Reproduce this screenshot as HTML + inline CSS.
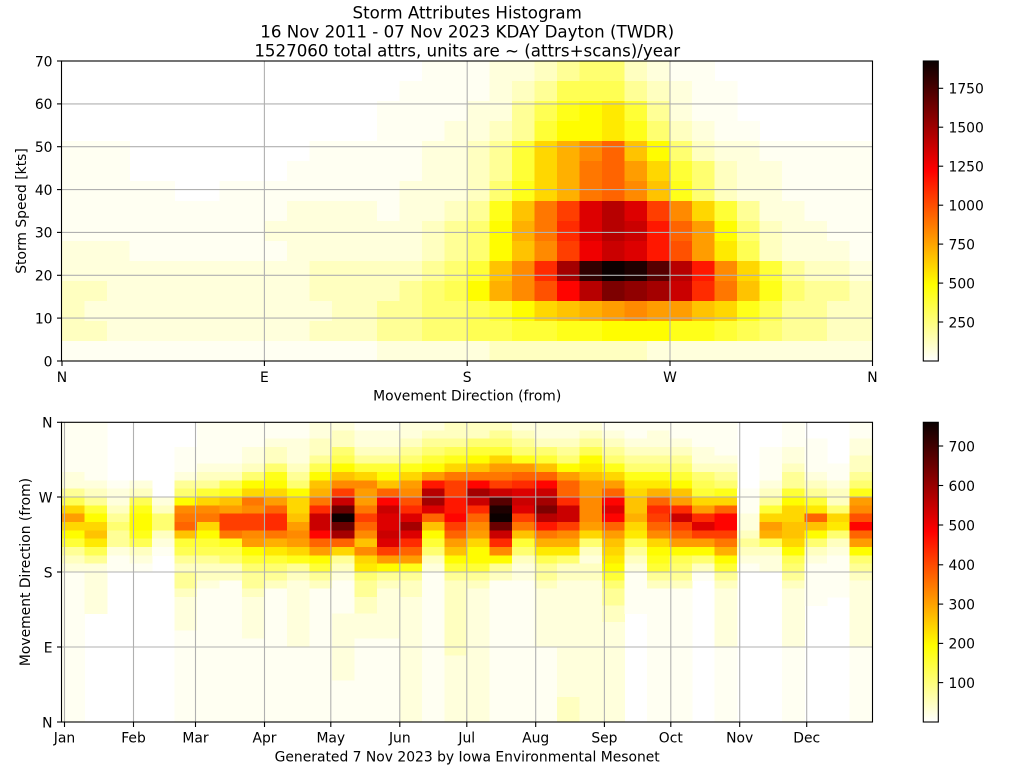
<!DOCTYPE html>
<html><head><meta charset="utf-8">
<style>
html,body{margin:0;padding:0;background:#fff;}
svg{display:block;font-family:"DejaVu Sans","Liberation Sans",sans-serif;}
text{fill:#000;}
</style></head><body>
<svg id="s" width="1024" height="768" viewBox="0 0 1024 768" xmlns="http://www.w3.org/2000/svg">
<defs>
<linearGradient id="hot" x1="0" y1="1" x2="0" y2="0">
<stop offset="0" stop-color="#ffffff"/>
<stop offset="0.254" stop-color="#ffff00"/>
<stop offset="0.635" stop-color="#ff0000"/>
<stop offset="1" stop-color="#0a0000"/>
</linearGradient>
</defs>
<rect width="1024" height="768" fill="#fff"/>
<g id="top" shape-rendering="crispEdges"></g>
<g id="bot" shape-rendering="crispEdges"></g>

<!-- Top grid -->
<g stroke="#b0b0b0" stroke-width="1.1" fill="none">
<line x1="264.4" y1="61" x2="264.4" y2="361"/>
<line x1="467.2" y1="61" x2="467.2" y2="361"/>
<line x1="670" y1="61" x2="670" y2="361"/>
<line x1="62" y1="318.1" x2="872.5" y2="318.1"/>
<line x1="62" y1="275.3" x2="872.5" y2="275.3"/>
<line x1="62" y1="232.4" x2="872.5" y2="232.4"/>
<line x1="62" y1="189.6" x2="872.5" y2="189.6"/>
<line x1="62" y1="146.7" x2="872.5" y2="146.7"/>
<line x1="62" y1="103.9" x2="872.5" y2="103.9"/>
</g>
<!-- Bottom grid -->
<g stroke="#b0b0b0" stroke-width="1.1" fill="none">
<line x1="64.5" y1="422" x2="64.5" y2="722"/>
<line x1="133.5" y1="422" x2="133.5" y2="722"/>
<line x1="195.5" y1="422" x2="195.5" y2="722"/>
<line x1="264.5" y1="422" x2="264.5" y2="722"/>
<line x1="330.8" y1="422" x2="330.8" y2="722"/>
<line x1="399.8" y1="422" x2="399.8" y2="722"/>
<line x1="466.8" y1="422" x2="466.8" y2="722"/>
<line x1="535.7" y1="422" x2="535.7" y2="722"/>
<line x1="604.4" y1="422" x2="604.4" y2="722"/>
<line x1="670.8" y1="422" x2="670.8" y2="722"/>
<line x1="739.7" y1="422" x2="739.7" y2="722"/>
<line x1="806.7" y1="422" x2="806.7" y2="722"/>
<line x1="62" y1="647" x2="872.5" y2="647"/>
<line x1="62" y1="572" x2="872.5" y2="572"/>
<line x1="62" y1="497" x2="872.5" y2="497"/>
</g>

<!-- Spines -->
<rect x="61.5" y="61" width="811" height="300" fill="none" stroke="#000" stroke-width="1.1"/>
<rect x="61.5" y="422.3" width="811" height="299.7" fill="none" stroke="#000" stroke-width="1.1"/>

<!-- Ticks -->
<g stroke="#000" stroke-width="1.1">
<line x1="62" y1="361" x2="62" y2="366"/>
<line x1="264.4" y1="361" x2="264.4" y2="366"/>
<line x1="467.2" y1="361" x2="467.2" y2="366"/>
<line x1="670" y1="361" x2="670" y2="366"/>
<line x1="872.5" y1="361" x2="872.5" y2="366"/>
<line x1="57" y1="361" x2="62" y2="361"/>
<line x1="57" y1="318.1" x2="62" y2="318.1"/>
<line x1="57" y1="275.3" x2="62" y2="275.3"/>
<line x1="57" y1="232.4" x2="62" y2="232.4"/>
<line x1="57" y1="189.6" x2="62" y2="189.6"/>
<line x1="57" y1="146.7" x2="62" y2="146.7"/>
<line x1="57" y1="103.9" x2="62" y2="103.9"/>
<line x1="57" y1="61" x2="62" y2="61"/>

<line x1="57" y1="722" x2="62" y2="722"/>
<line x1="57" y1="647" x2="62" y2="647"/>
<line x1="57" y1="572" x2="62" y2="572"/>
<line x1="57" y1="497" x2="62" y2="497"/>
<line x1="57" y1="422.3" x2="62" y2="422.3"/>

<line x1="64.5" y1="722" x2="64.5" y2="727"/>
<line x1="133.5" y1="722" x2="133.5" y2="727"/>
<line x1="195.5" y1="722" x2="195.5" y2="727"/>
<line x1="264.5" y1="722" x2="264.5" y2="727"/>
<line x1="330.8" y1="722" x2="330.8" y2="727"/>
<line x1="399.8" y1="722" x2="399.8" y2="727"/>
<line x1="466.8" y1="722" x2="466.8" y2="727"/>
<line x1="535.7" y1="722" x2="535.7" y2="727"/>
<line x1="604.4" y1="722" x2="604.4" y2="727"/>
<line x1="670.8" y1="722" x2="670.8" y2="727"/>
<line x1="739.7" y1="722" x2="739.7" y2="727"/>
<line x1="806.7" y1="722" x2="806.7" y2="727"/>
</g>

<!-- Title -->
<g font-size="16.67" text-anchor="middle">
<text x="467.2" y="18.7">Storm Attributes Histogram</text>
<text x="467.2" y="37.7">16 Nov 2011 - 07 Nov 2023 KDAY Dayton (TWDR)</text>
<text x="467.2" y="56.7">1527060 total attrs, units are ~ (attrs+scans)/year</text>
</g>

<!-- Axis labels -->
<g font-size="13.89">
<g text-anchor="end">
<text x="52.5" y="366.3">0</text>
<text x="52.5" y="323.4">10</text>
<text x="52.5" y="280.6">20</text>
<text x="52.5" y="237.7">30</text>
<text x="52.5" y="194.9">40</text>
<text x="52.5" y="152">50</text>
<text x="52.5" y="109.2">60</text>
<text x="52.5" y="66.3">70</text>
<text x="52.5" y="727.3">N</text>
<text x="52.5" y="652.3">E</text>
<text x="52.5" y="577.3">S</text>
<text x="52.5" y="502.3">W</text>
<text x="52.5" y="427.6">N</text>
</g>
<g text-anchor="middle">
<text x="62" y="381.8">N</text>
<text x="264.4" y="381.8">E</text>
<text x="467.2" y="381.8">S</text>
<text x="670" y="381.8">W</text>
<text x="872.5" y="381.8">N</text>
<text x="467.2" y="400.6">Movement Direction (from)</text>
<text transform="translate(26,211) rotate(-90)">Storm Speed [kts]</text>
<text transform="translate(30,572) rotate(-90)">Movement Direction (from)</text>
<text x="64.5" y="742.3">Jan</text>
<text x="133.5" y="742.3">Feb</text>
<text x="195.5" y="742.3">Mar</text>
<text x="264.5" y="742.3">Apr</text>
<text x="330.8" y="742.3">May</text>
<text x="399.8" y="742.3">Jun</text>
<text x="466.8" y="742.3">Jul</text>
<text x="535.7" y="742.3">Aug</text>
<text x="604.4" y="742.3">Sep</text>
<text x="670.8" y="742.3">Oct</text>
<text x="739.7" y="742.3">Nov</text>
<text x="806.7" y="742.3">Dec</text>
<text x="467.2" y="761.5">Generated 7 Nov 2023 by Iowa Environmental Mesonet</text>
</g>
</g>

<!-- Colorbars -->
<rect x="923.3" y="61" width="15" height="300" fill="url(#hot)" stroke="#000" stroke-width="1.1"/>
<rect x="923.3" y="422.3" width="15" height="299.7" fill="url(#hot)" stroke="#000" stroke-width="1.1"/>
<g stroke="#000" stroke-width="1.1">
<line x1="938.3" y1="322" x2="943.2" y2="322"/>
<line x1="938.3" y1="283.1" x2="943.2" y2="283.1"/>
<line x1="938.3" y1="244.1" x2="943.2" y2="244.1"/>
<line x1="938.3" y1="205.2" x2="943.2" y2="205.2"/>
<line x1="938.3" y1="166.2" x2="943.2" y2="166.2"/>
<line x1="938.3" y1="127.2" x2="943.2" y2="127.2"/>
<line x1="938.3" y1="88.3" x2="943.2" y2="88.3"/>
<line x1="938.3" y1="682.6" x2="943.2" y2="682.6"/>
<line x1="938.3" y1="643.4" x2="943.2" y2="643.4"/>
<line x1="938.3" y1="604.1" x2="943.2" y2="604.1"/>
<line x1="938.3" y1="564.8" x2="943.2" y2="564.8"/>
<line x1="938.3" y1="525" x2="943.2" y2="525"/>
<line x1="938.3" y1="485.5" x2="943.2" y2="485.5"/>
<line x1="938.3" y1="446" x2="943.2" y2="446"/>
</g>
<g font-size="13.89">
<text x="948.5" y="327.3">250</text>
<text x="948.5" y="288.4">500</text>
<text x="948.5" y="249.4">750</text>
<text x="948.5" y="210.5">1000</text>
<text x="948.5" y="171.5">1250</text>
<text x="948.5" y="132.5">1500</text>
<text x="948.5" y="93.6">1750</text>
<text x="948.5" y="687.9">100</text>
<text x="948.5" y="648.7">200</text>
<text x="948.5" y="609.4">300</text>
<text x="948.5" y="570.1">400</text>
<text x="948.5" y="530.3">500</text>
<text x="948.5" y="490.8">600</text>
<text x="948.5" y="451.3">700</text>
</g>
</svg>
<script>
(function(){
var NS="http://www.w3.org/2000/svg";
var LOW=[255,242,220,192,150];
function hot(i){
 if(i<=4){return "rgb(255,255,"+LOW[i]+")";}
 var s=1-i/35,r,g,b;
 if(s<0.365079){r=0.0416+0.9584*s/0.365079;g=0;b=0;}
 else if(s<0.746032){r=1;g=(s-0.365079)/0.380953;b=0;}
 else{r=1;g=1;b=(s-0.746032)/0.253968;}
 return "rgb("+Math.round(r*255)+","+Math.round(g*255)+","+Math.round(b*255)+")";}
function lv(ch){var v=parseInt(ch,36);return isNaN(v)?0:v;}
function pad(s){return (s+s.slice(-1).repeat(40)).slice(0,36);}
function rect(g,x,y,w,h,f){var r=document.createElementNS(NS,"rect");
 r.setAttribute("x",x);r.setAttribute("y",y);r.setAttribute("width",w);r.setAttribute("height",h);r.setAttribute("fill",f);g.appendChild(r);}
var T=[
"0000000000000000"+"1112234553211"+"0000000",
"000000000000000"+"11112346664321"+"1000000",
"00000000000000"+"1111224689a74211"+"000000",
"00000000000000"+"1112234799a85321"+"100000",
"11100000000111"+"1122347bdfhc9532211111",
"11100000001111"+"1122347bdgheb753221111",
"11111001111111"+"1222358bdghfc853221111",
"11111111112222"+"122348cgjoqojfb7422111",
"11111111122222"+"223459dgkoqplhe9532211",
"22211111112222"+"223459cfjnpoliea632221",
"22222222222333"+"33457cfkrxzyvqlfb74332",
"33222222222333"+"34569dfimqtsrpkgc85443",
"32222222222233"+"4455679bcdefeecb864433",
"33222222222333"+"4455667788999887654433",
"11111111111111"+"2222233333332222222222"
];
var gt=document.getElementById("top");
for(var r=0;r<15;r++){var s=pad(T[r]);for(var c=0;c<36;c++){var v=lv(s[c]);if(v>0)rect(gt,62+22.5*c,61+20*r,23,20.5,hot(v));}}
var B=[
"111111224"+"6beb974"+"32"+"111111111111111111",
"1111111234"+"79bca642"+"22222"+"0000000000000",
"0000000"+"122345442"+"11"+"000000000000000000",
"0000000"+"23689986"+"321"+"000000000000000000",
"000000000"+"235532"+"1"+"00000000000000000000",
"000111245"+"9fghc764"+"3443"+"2222"+"11111111111",
"11111234"+"7bfgb9764"+"332"+"1111111111111111",
"111112368"+"cejjg865"+"33"+"11111111111111111",
"111223"+"59bgfjjfe97"+"5443"+"22222"+"1111111111",
"112335"+"89behkkgda75"+"43"+"1111111111111111",
"112223459"+"bbcefeb843"+"22222222"+"111111111",
"223346"+"9cdgkppmhe97"+"43"+"1111111111111111",
"23356"+"9cfjpuzurhb4"+"32"+"1111"+"222"+"22222"+"11111",
"12234"+"7bfeegjhfcfba"+"54433"+"222"+"1111111111",
"12234"+"79chmpoopoje9"+"43"+"222222"+"1111111111",
"22345"+"8befikorokhe8"+"433"+"22222"+"2222222222",
"23457"+"9elqrohc9753"+"2"+"111111111111111111",
"33468"+"bgjjllmjhec97"+"43"+"33333333"+"22222222",
"33579"+"cgmrpkhfeb997"+"43"+"2222222222222222",
"3457b"+"egjpvyzupkf9"+"43"+"11111111111111111",
"23458"+"ehkopojgc753"+"22"+"11111111111111111",
"22357"+"chmprtqlgda64"+"43"+"2222222"+"111111111",
"22345"+"9ehhkppjfda53"+"3"+"22222222222222"+"333",
"23469"+"aceefffeb532"+"33"+"22222222222222222",
"12345"+"8behmomhe"+"cba9"+"754433"+"222222222222",
"11234"+"58abccdba643"+"21"+"1111"+"0000000000000",
"12234"+"58adhkjh"+"fb987"+"43"+"1111111111111111",
"11234"+"579cekpjhe965"+"43"+"1111111111111111",
"11122"+"3567bekoje95"+"3"+"1"+"00000000000000000",
"11112"+"3458bhmmjgd97"+"43"+"2222222"+"111111111",
"00000000"+"111223432"+"1"+"000000000000000000",
"00011112"+"347bed632"+"2"+"000000000000000000",
"11122"+"34479bbccb965"+"43"+"2222222"+"111111111",
"00111"+"12347ahc9532"+"1"+"1111"+"00000000000000",
"00000"+"112335ba5321"+"1111000000000000000",
"11223"+"3458efimhe954"+"3"+"22222222"+"111111111"
];
var gb=document.getElementById("bot");var rh=300/36;
for(var c=0;c<36;c++){var s=pad(B[c]);for(var r=0;r<36;r++){var v=lv(s[r]);if(v>0)rect(gb,62+22.5*c,422+rh*r,23,rh+0.5,hot(v));}}
})();
</script>
</body></html>
